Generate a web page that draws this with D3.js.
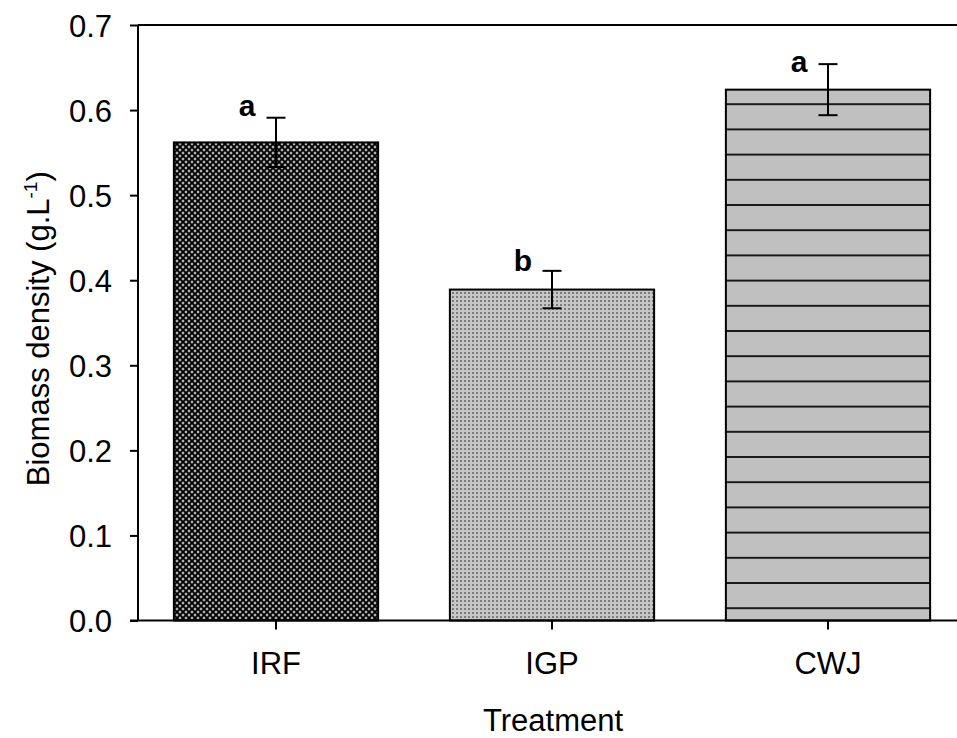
<!DOCTYPE html>
<html>
<head>
<meta charset="utf-8">
<script src="https://cdn.jsdelivr.net/npm/d3@7"></script>
<style>
  html, body { margin: 0; padding: 0; background: #fff; }
  svg { display: block; }
  text { font-family: Arial, "Liberation Sans", sans-serif; fill: #000; }
</style>
</head>
<body>
<svg id="chart" width="957" height="738"></svg>
<script>
// Biomass density by treatment (mean ± error, with significance letters)
const categories = ["IRF", "IGP", "CWJ"];
const means = [0.562, 0.389, 0.624];
const errors = [0.029, 0.022, 0.030];
const letters = ["a", "b", "a"];
const letterAt = [0.593, 0.411, 0.645];
const yTicks = [0.0, 0.1, 0.2, 0.3, 0.4, 0.5, 0.6, 0.7];

const W = 957, H = 738;
const plot = { left: 138, right: 966, top: 25, bottom: 620.5 };

const svg = d3.select("#chart");
const defs = svg.append("defs");

// Cross-hatch: black ground with a lattice of grey diamonds
const pCross = defs.append("pattern").attr("id", "fill-cross")
  .attr("patternUnits", "userSpaceOnUse").attr("width", 6).attr("height", 6);
pCross.append("rect").attr("width", 6).attr("height", 6).attr("fill", "#000");
[[0, 0], [6, 0], [0, 6], [6, 6], [3, 3]].forEach(([cx, cy]) => {
  pCross.append("path")
    .attr("d", `M${cx},${cy - 1.7}L${cx + 1.7},${cy}L${cx},${cy + 1.7}L${cx - 1.7},${cy}Z`)
    .attr("fill", "#b4b4b4");
});

// Fine dotted grey
const pDots = defs.append("pattern").attr("id", "fill-dots")
  .attr("patternUnits", "userSpaceOnUse").attr("width", 4).attr("height", 4);
pDots.append("rect").attr("width", 4).attr("height", 4).attr("fill", "#c6c6c6");
pDots.append("rect").attr("width", 2).attr("height", 2).attr("fill", "#7c7c7c");

// Horizontal stripes on silver
const pStripe = defs.append("pattern").attr("id", "fill-stripes")
  .attr("patternUnits", "userSpaceOnUse").attr("width", 20).attr("height", 25.2)
  .attr("y", 3.4);
pStripe.append("rect").attr("width", 20).attr("height", 25.2).attr("fill", "#c0c0c0");
pStripe.append("rect").attr("y", -0.85).attr("width", 20).attr("height", 1.7).attr("fill", "#000");
pStripe.append("rect").attr("y", 25.2 - 0.85).attr("width", 20).attr("height", 1.7).attr("fill", "#000");

const fills = ["url(#fill-cross)", "url(#fill-dots)", "url(#fill-stripes)"];

const x = d3.scaleBand()
  .domain(categories)
  .range([plot.left, plot.right])
  .paddingInner(0.26)
  .paddingOuter(0.13);

const y = d3.scaleLinear()
  .domain([0, 0.7])
  .range([plot.bottom, plot.top]);

// Bars
svg.append("g").selectAll("rect")
  .data(categories)
  .join("rect")
  .attr("x", d => x(d))
  .attr("y", (d, i) => y(means[i]))
  .attr("width", x.bandwidth())
  .attr("height", (d, i) => y(0) - y(means[i]))
  .attr("fill", (d, i) => fills[i])
  .attr("stroke", "#000")
  .attr("stroke-width", 2);

// Error bars
const eb = svg.append("g").attr("stroke", "#000").attr("stroke-width", 2).attr("fill", "none");
categories.forEach((c, i) => {
  const cx = x(c) + x.bandwidth() / 2;
  const y1 = y(means[i] + errors[i]), y2 = y(means[i] - errors[i]);
  eb.append("line").attr("x1", cx).attr("x2", cx).attr("y1", y1).attr("y2", y2);
  eb.append("line").attr("x1", cx - 9.5).attr("x2", cx + 9.5).attr("y1", y1).attr("y2", y1);
  eb.append("line").attr("x1", cx - 9.5).attr("x2", cx + 9.5).attr("y1", y2).attr("y2", y2);
});

// Significance letters
svg.append("g").selectAll("text")
  .data(categories)
  .join("text")
  .attr("x", d => x(d) + x.bandwidth() / 2 - 29)
  .attr("y", (d, i) => y(letterAt[i]))
  .attr("text-anchor", "middle")
  .attr("font-size", 30)
  .attr("font-weight", "bold")
  .text((d, i) => letters[i]);

// Y axis
const yAxis = svg.append("g")
  .attr("transform", `translate(${plot.left},0)`)
  .call(d3.axisLeft(y).tickValues(yTicks).tickFormat(d3.format(".1f")).tickSize(8).tickPadding(18));
yAxis.select(".domain").attr("d", `M0,${plot.top}V${plot.bottom}`).attr("stroke-width", 2);
yAxis.selectAll(".tick line").attr("stroke-width", 2);
yAxis.selectAll(".tick text").attr("font-size", 31).attr("font-family", null).attr("dy", "0.36em");

// X axis
const xAxis = svg.append("g")
  .attr("transform", `translate(0,${plot.bottom})`)
  .call(d3.axisBottom(x).tickSize(9).tickPadding(22));
xAxis.select(".domain").attr("d", `M${plot.left - 8},0H${W}`).attr("stroke-width", 2);
xAxis.selectAll(".tick line").attr("stroke-width", 2);
xAxis.selectAll(".tick text").attr("font-size", 31).attr("font-family", null);

// Top frame line
svg.append("line")
  .attr("x1", plot.left).attr("x2", W)
  .attr("y1", plot.top).attr("y2", plot.top)
  .attr("stroke", "#000").attr("stroke-width", 2);

// Axis titles
svg.append("text")
  .attr("x", 553)
  .attr("y", 731)
  .attr("text-anchor", "middle")
  .attr("font-size", 31)
  .text("Treatment");

const yTitle = svg.append("text")
  .attr("transform", `translate(49,${(plot.top + plot.bottom) / 2 + 6}) rotate(-90)`)
  .attr("text-anchor", "middle")
  .attr("font-size", 31);
yTitle.append("tspan").text("Biomass density (g.L");
yTitle.append("tspan").attr("font-size", 19).attr("dy", -12).text("-1");
yTitle.append("tspan").attr("dy", 12).text(")");
</script>
</body>
</html>
